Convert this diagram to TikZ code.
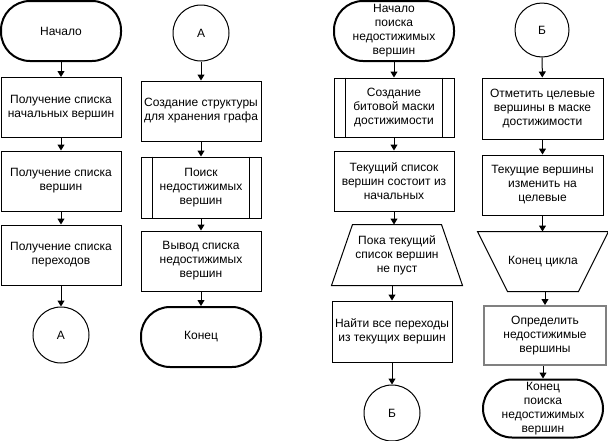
\documentclass[tikz,border=0pt]{standalone}
\usepackage{fontspec}
\setmainfont{Liberation Sans}
\usetikzlibrary{arrows.meta}
\tikzset{
  term/.style={draw,line width=2pt,rounded corners=29pt,minimum width=120,minimum height=60,align=center,inner sep=1pt},
  proc/.style={draw,minimum width=120,minimum height=60,align=center,inner sep=1pt},
  subproc/.style={proc},
  conn/.style={draw,shape=circle,minimum size=56,inner sep=0pt},
  loopbox/.style={minimum width=130,minimum height=60,align=center,inner sep=1pt},
  flow/.style={-{Triangle[length=6pt,width=7pt]}}
}
\begin{document}
\begin{tikzpicture}[x=1pt,y=-1pt,line width=1pt,font=\fontsize{12}{14}\selectfont]
\useasboundingbox (0,0) rectangle (608,440);
% first column
\node at (61,31) [term](S){Начало};
\node at (61,107.5) [proc](P1){Получение списка\\начальных вершин};
\node at (61,181) [proc](P2){Получение списка\\вершин};
\node at (61,255) [proc](P3){Получение списка\\переходов};
\node at (61,335) [conn](A1){А};
% second column
\node at (201,33) [conn](A2){А};
\node at (201,111) [proc](P4){Создание структуры\\для хранения графа};
\node at (201,187.5) [subproc,minimum height=61](S1){Поиск\\недостижимых\\вершин};
\node at (201,261) [proc](P5){Вывод списка\\недостижимых\\вершин};
\node at (201,337) [term](E){Конец};
% third column
\node at (394,31) [term](S2){Начало\\поиска\\недостижимых\\вершин};
\node at (394,107.5) [subproc,minimum height=59](M){Создание\\битовой маски\\достижимости};
\node at (394,181) [proc](P6){Текущий список\\вершин состоит из\\начальных};
\node at (397,255) [loopbox](L1){Пока текущий\\список вершин\\не пуст};
\node at (392,331.5) [proc,minimum height=61](P7){Найти все переходы\\из текущих вершин};
\node at (392,413) [conn](B1){Б};
% fourth column
\node at (542,30) [conn,minimum size=54](B2){Б};
\node at (542.5,108.5) [proc,minimum width=121,minimum height=61](P8){Отметить целевые\\вершины в маске\\достижимости};
\node at (542.5,185) [proc,minimum width=121](P9){Текущие вершины\\изменить на\\целевые};
\node at (543,261.5) [loopbox,minimum height=59](L2){Конец цикла};
\node at (545,335.5) [proc,draw=gray,line width=2pt,minimum width=122,minimum height=59](P10){Определить\\недостижимые\\вершины};
\node at (543,408.5) [term,minimum height=58](E2){Конец\\поиска\\недостижимых\\вершин};
% inner lines of subprocesses
\draw ([xshift=12]S1.north west) -- ([xshift=12]S1.south west);
\draw ([xshift=-12]S1.north east) -- ([xshift=-12]S1.south east);
\draw ([xshift=12]M.north west) -- ([xshift=12]M.south west);
\draw ([xshift=-12]M.north east) -- ([xshift=-12]M.south east);
% loop borders
\draw ([xshift=21]L1.north west) -- ([xshift=-21]L1.north east) -- (L1.south east) -- (L1.south west) -- cycle;
\draw (L2.north west) -- (L2.north east) -- ([xshift=-30]L2.south east) -- ([xshift=30]L2.south west) -- cycle;
% arrows
\draw[flow] (S) -- (P1);
\draw[flow] (P1) -- (P2);
\draw[flow] (P2) -- (P3);
\draw[flow] (P3) -- (A1);
\draw[flow] (A2) -- (P4);
\draw[flow] (P4) -- (S1);
\draw[flow] (S1) -- (P5);
\draw[flow] (P5) -- (E);
\draw[flow] (S2) -- (M);
\draw[flow] (M) -- (P6);
\draw[flow] (P6.south) -- (P6.south|-L1.north);
\draw[flow] (L1.south-|P7.north) -- (P7);
\draw[flow] (P7) -- (B1);
\draw[flow] (B2) -- (P8);
\draw[flow] (P8) -- (P9);
\draw[flow] (P9.south) -- (P9.south|-L2.north);
\draw[flow] (L2.south-|P10.north) -- (P10);
\draw[flow] (P10.south-|E2.north) -- (E2);
\end{tikzpicture}
\end{document}
